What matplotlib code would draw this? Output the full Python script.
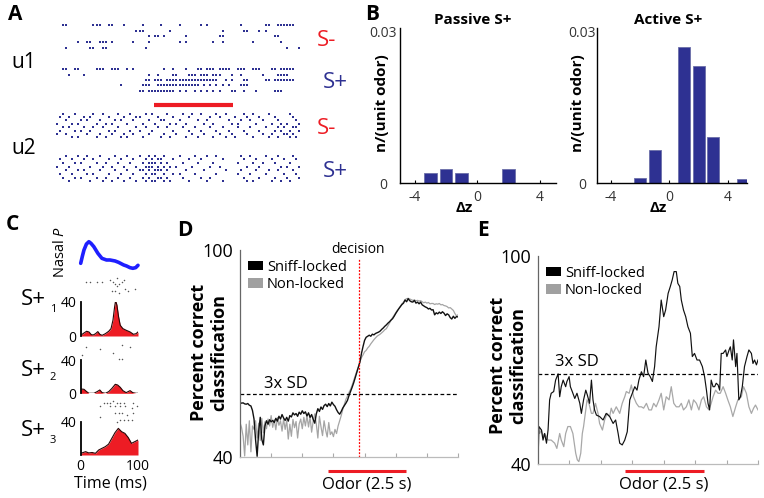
import numpy as np
import matplotlib
matplotlib.use('Agg')
import matplotlib.pyplot as plt
from matplotlib.patches import Patch

plt.rcParams['font.family'] = ['Open Sans', 'DejaVu Sans']
plt.rcParams['mathtext.fontset'] = 'custom'
plt.rcParams['mathtext.it'] = 'Open Sans:italic'
plt.rcParams['mathtext.rm'] = 'Open Sans'
plt.rcParams['axes.unicode_minus'] = False

# ---------------- DATA ----------------
# Panel A: spike rasters (time bins 0-79), one list per trial
u1_minus = [
    [2, 3, 12, 13, 14, 17, 18, 22, 28, 34, 40, 47, 49, 60, 68, 69, 72, 73, 74, 75, 76, 77],
    [26, 27, 28, 37, 54, 61, 62, 66, 68],
    [30, 32, 33, 35, 42, 53, 54, 71, 72],
    [7, 10, 11, 14, 15, 16, 18, 25, 30, 40, 42, 51, 54, 64, 73],
    [3, 11, 12, 15, 16, 29, 75, 79],
]
u1_plus = [
    [2, 3, 6, 7, 13, 14, 15, 18, 19, 20, 23, 25, 35, 38, 42, 46, 47, 49, 50, 51, 53, 54, 55, 56,
     59, 60, 61, 64, 65, 66, 70, 71, 73, 74, 75, 76, 77],
    [4, 9, 30, 33, 38, 39, 43, 44, 45, 47, 48, 49, 51, 52, 53, 57, 60, 67, 72, 73, 74, 75],
    [29, 30, 32, 33, 34, 36, 37, 38, 39, 40, 41, 42, 43, 44, 45, 46, 47, 48, 49, 50, 51, 52, 55,
     57, 61, 62, 68, 69, 71, 72, 73, 74, 75, 76, 77],
    [21, 28, 29, 30, 33, 34, 35, 36, 37, 38, 39, 40, 41, 42, 43, 44, 45, 46, 48, 50, 52, 54, 56,
     60, 61, 62],
    [27, 28, 30, 31, 32, 33, 34, 35, 36, 37, 38, 40, 42, 45, 47, 49, 51, 53, 57, 58, 61, 65, 71, 72, 73],
]
u2_minus = [
    [2, 6, 12, 15, 20, 24, 29, 31, 36, 41, 44, 47, 52, 55, 61, 64, 69, 76],
    [1, 4, 9, 11, 17, 22, 26, 27, 33, 38, 43, 50, 53, 58, 62, 66, 71, 77],
    [3, 8, 10, 14, 19, 21, 25, 30, 34, 35, 40, 46, 49, 56, 60, 63, 67, 72, 78],
    [0, 5, 7, 13, 16, 18, 23, 28, 32, 37, 39, 42, 48, 51, 57, 59, 65, 70, 73, 75, 79],
    [2, 4, 9, 12, 15, 20, 26, 29, 33, 36, 41, 45, 50, 54, 59, 63, 68, 72, 74, 77, 78],
    [1, 6, 8, 11, 17, 19, 24, 27, 31, 38, 43, 47, 52, 56, 61, 66, 71, 73, 76, 79],
    [0, 3, 10, 14, 18, 22, 25, 30, 35, 39, 44, 48, 53, 57, 62, 67, 70, 74, 75, 77],
    [5, 7, 13, 16, 21, 23, 28, 34, 37, 42, 46, 51, 55, 58, 64, 69, 72, 76, 78],
]
u2_plus = [
    [3, 7, 10, 14, 19, 23, 27, 30, 32, 35, 40, 45, 49, 52, 60, 63, 68, 72, 77],
    [1, 5, 9, 12, 17, 21, 25, 29, 31, 33, 34, 38, 43, 47, 54, 61, 65, 70, 74, 78],
    [2, 6, 8, 13, 16, 20, 24, 28, 30, 31, 32, 34, 36, 41, 46, 51, 59, 64, 67, 71, 76],
    [0, 4, 11, 15, 18, 22, 26, 29, 30, 31, 33, 35, 37, 39, 44, 50, 53, 62, 66, 73, 75, 79],
    [3, 7, 9, 14, 19, 23, 27, 28, 30, 32, 33, 34, 36, 42, 48, 55, 60, 65, 69, 72, 77],
    [1, 5, 10, 12, 17, 21, 25, 29, 31, 32, 35, 38, 40, 45, 52, 59, 63, 68, 74, 78],
    [2, 6, 8, 13, 16, 20, 24, 28, 30, 33, 34, 36, 41, 47, 50, 61, 66, 71, 75, 79],
    [4, 11, 15, 18, 22, 26, 29, 31, 32, 35, 37, 43, 49, 54, 62, 64, 70, 73, 76],
]
odor_A = (31.6, 57.3)

# Panel B: histograms of delta z
passive_x = [-3, -2, -1, 2]
passive_h = [0.0019, 0.0028, 0.0020, 0.0028]
active_x = [-2, -1, 1, 2, 3, 5]
active_h = [0.0010, 0.0066, 0.0269, 0.0232, 0.0092, 0.00085]

# Panel C: nasal pressure and PSTHs (time in ms)
nasal_t = [0, 3, 5.7, 10, 14.3, 18, 22.9, 30, 37, 45, 51, 60, 66, 75, 80, 86, 91, 96, 100]
nasal_p = [0.20, 0.42, 0.60, 0.78, 0.85, 0.80, 0.70, 0.50, 0.35, 0.30, 0.30, 0.27, 0.23,
           0.15, 0.12, 0.07, 0.05, 0.07, 0.14]
psth1_t = [0, 5.7, 10.3, 14.4, 18.4, 21.8, 25.9, 29.9, 33.3, 37.4, 43.1, 48.9, 52.9, 56.3,
           59.2, 60.9, 63.2, 66.1, 69.0, 73.6, 79.3, 86.2, 92.0, 96.6, 100]
psth1_v = [0.8, 3.5, 5.5, 4.7, 1.6, 1.2, 2.7, 5.1, 2.0, 0.8, 2.7, 5.5, 8.6, 18.4, 34.1, 41.2,
           36.1, 22.4, 12.5, 8.6, 6.7, 4.7, 2.0, 2.7, 4.7]
psth2_t = [0, 5.7, 10.3, 14.4, 23.0, 28.7, 33.3, 37.4, 43.1, 48.9, 54.6, 60.3, 64.4, 69.0,
           73.6, 79.3, 86.2, 90.8, 96.6, 100]
psth2_v = [5.2, 4.8, 2.0, 0.0, 0.0, 2.0, 4.0, 0.8, 0.0, 2.0, 6.0, 10.8, 10.0, 7.2, 3.2, 0.8,
           3.2, 0.8, 0.0, 0.0]
psth3_t = [0, 8.6, 14, 20, 25.7, 31.4, 37.1, 42.9, 48.6, 54.3, 60, 65.7, 71.4, 77.1, 82.9,
           88.6, 94.3, 100]
psth3_v = [2, 4, 2.5, 3, 2, 6, 8, 10, 13, 20, 27, 32, 28, 26, 21, 14, 16, 18]
# sniff rasters: (trial, time ms)
rast1 = [(2, 9), (2, 17), (2, 29), (2, 37), (1, 52), (2, 57), (3, 60), (3, 66), (2, 72), (4, 63),
         (6, 55), (6, 60), (5, 78), (6, 83), (5, 95), (1, 75), (0, 63), (7, 66)]
rast2 = [(1, 9), (2, 34), (0, 72), (1, 86), (4, 57), (7, 66), (7, 72), (5, 3)]
rast3 = [(2, 34), (1, 40), (1, 46), (1, 52), (0, 57), (1, 63), (1, 69), (1, 75), (2, 52), (2, 60),
         (2, 69), (2, 78), (3, 89), (1, 92), (7, 34), (5, 60), (5, 66), (5, 72), (6, 80), (8, 69),
         (8, 75), (8, 83), (8, 89), (9, 63), (5, 92), (2, 98)]

# Panel D: percent correct classification (time in s)
tD = np.arange(141) * 0.05
D_sniff = [55.8, 55.6, 55.7, 55.4, 55.3, 55.5, 55.0, 54.8, 53.5, 51.0, 45.0, 40.2, 47.5, 51.5,
           45.1, 43.5, 49.0, 50.5, 49.5, 50.8, 50.2, 50.6, 50.0, 51.2, 50.4, 51.8, 51.0, 52.3,
           51.3, 50.6, 51.5, 50.4, 52.0, 51.6, 52.8, 52.2, 52.6, 51.8, 53.0, 52.4, 53.4, 52.6,
           53.1, 51.9, 52.8, 51.5, 52.3, 50.9, 49.8, 52.5, 54.0, 53.2, 54.5, 53.8, 54.9, 55.3,
           54.6, 55.5, 54.8, 55.9, 55.2, 54.7, 53.7, 52.9, 52.4, 53.2, 54.2, 54.9, 55.6, 56.4,
           57.8, 59.0, 60.2, 61.5, 63.0, 64.6, 66.0, 67.5, 70.0, 72.0, 73.8, 74.7, 75.0, 75.3,
           75.0, 75.6, 75.4, 75.8, 76.0, 76.2, 76.5, 77.0, 77.4, 77.9, 78.3, 78.8, 79.2, 79.7,
           80.1, 80.8, 81.6, 82.3, 83.0, 83.6, 84.2, 84.6, 85.5, 85.0, 85.9, 85.3, 85.0, 84.9,
           85.4, 84.6, 84.9, 84.4, 84.9, 84.1, 83.8, 83.5, 83.3, 82.9, 83.1, 82.6, 82.7, 81.2,
           81.8, 81.5, 82.0, 81.6, 82.1, 81.7, 81.0, 81.5, 81.2, 80.4, 80.0, 80.8, 80.2, 80.7,
           80.6]
D_non = [50.0, 48.5, 46.0, 40.3, 49.5, 43.5, 50.5, 41.5, 49.0, 48.0, 50.5, 45.5, 49.8, 44.8,
         51.2, 47.0, 50.2, 48.2, 51.0, 49.0, 52.0, 48.6, 50.8, 47.9, 51.4, 49.2, 50.5, 47.5,
         51.0, 48.0, 50.6, 45.2, 49.5, 46.0, 50.9, 48.5, 50.3, 45.5, 49.6, 51.0, 48.2, 51.5,
         49.0, 52.0, 48.7, 51.6, 47.2, 50.4, 52.5, 49.6, 45.5, 51.8, 48.8, 46.2, 50.5, 47.8,
         45.8, 50.0, 46.5, 47.3, 45.9, 48.0, 46.8, 49.0, 50.5, 52.0, 53.8, 55.3, 56.7, 57.6,
         58.7, 59.6, 60.8, 62.2, 63.5, 64.9, 66.1, 67.6, 68.8, 69.6, 70.5, 70.9, 71.6, 72.1,
         72.8, 73.4, 74.0, 74.5, 75.0, 75.3, 75.6, 76.0, 76.4, 76.9, 77.2, 78.0, 78.8, 79.6,
         80.4, 81.1, 81.8, 82.5, 83.0, 83.7, 84.4, 84.9, 85.6, 85.9, 86.0, 85.8, 85.6, 85.4,
         85.5, 85.3, 85.4, 85.2, 85.3, 85.0, 84.7, 84.9, 84.6, 84.8, 84.4, 84.5, 84.5, 84.2,
         84.4, 84.3, 84.5, 84.1, 84.2, 83.9, 83.8, 83.6, 83.2, 83.3, 82.9, 82.5, 81.6, 80.9,
         81.2]
sd3_D = 58.2
decision_t = 3.83
odor_D = 2.83

# Panel E
tE_sniff = [0, .03, .11, .16, .21, .27, .32, .37, .42, .50, .56, .64, .69, .74, .80, .88, .92,
            .99, 1.03, 1.09, 1.17, 1.24, 1.33, 1.38, 1.45, 1.52, 1.57, 1.64, 1.70, 1.75, 1.80,
            1.86, 1.96, 2.07, 2.17, 2.28, 2.39, 2.47, 2.55, 2.60, 2.68, 2.76, 2.84, 2.92, 3.00,
            3.08, 3.15, 3.21, 3.29, 3.36, 3.43, 3.50, 3.57, 3.64, 3.71, 3.76, 3.85, 3.92, 4.00,
            4.06, 4.14, 4.21, 4.27, 4.33, 4.40, 4.45, 4.51, 4.56, 4.63, 4.70, 4.77, 4.85, 4.91,
            4.98, 5.06, 5.14, 5.23, 5.30, 5.36, 5.41, 5.46, 5.51, 5.57, 5.62, 5.67, 5.73, 5.78,
            5.83, 5.89, 5.97, 6.01, 6.08, 6.12, 6.18, 6.22, 6.29, 6.33, 6.39, 6.44, 6.50, 6.57,
            6.65, 6.71, 6.79, 6.84, 6.89, 6.95, 7.00]
E_sniff = [40.2, 50.8, 49.8, 46.9, 48.8, 46.0, 49.8, 58.5, 60.4, 60.9, 64.2, 66.0, 59.4, 62.3,
           64.2, 62.3, 63.8, 65.2, 62.3, 60.9, 58.9, 60.4, 57.5, 54.6, 58.5, 61.3, 59.9, 57.5,
           64.2, 58.5, 55.6, 54.1, 53.7, 52.7, 54.6, 53.7, 51.7, 52.7, 48.8, 46.0, 45.5, 46.9,
           49.3, 58.5, 60.4, 62.3, 61.3, 64.2, 66.6, 65.2, 70.0, 66.2, 65.2, 63.8, 68.1, 73.8,
           79.6, 87.3, 82.5, 84.4, 89.2, 91.2, 93.1, 95.5, 95.5, 92.1, 91.2, 87.3, 84.4, 82.5,
           79.6, 77.7, 71.0, 71.9, 70.0, 70.0, 68.1, 65.2, 61.3, 57.5, 55.6, 64.2, 62.3, 62.3,
           63.3, 62.8, 61.3, 71.9, 71.9, 72.9, 71.0, 72.9, 73.8, 70.0, 75.8, 68.1, 71.9, 58.5,
           59.4, 62.3, 68.1, 71.0, 72.9, 71.9, 69.0, 70.0, 68.6, 70.0]
tE_non = [0.00, 0.05, 0.11, 0.16, 0.21, 0.32, 0.42, 0.53, 0.60, 0.69, 0.74, 0.82, 0.88, 0.95,
          1.03, 1.11, 1.20, 1.25, 1.30, 1.36, 1.41, 1.45, 1.52, 1.56, 1.62, 1.70, 1.75, 1.83,
          1.91, 1.96, 2.05, 2.12, 2.20, 2.28, 2.33, 2.39, 2.49, 2.60, 2.68, 2.76, 2.81, 2.90,
          2.97, 3.04, 3.13, 3.21, 3.29, 3.36, 3.45, 3.53, 3.61, 3.68, 3.76, 3.85, 3.92, 4.00,
          4.08, 4.17, 4.24, 4.32, 4.40, 4.49, 4.56, 4.63, 4.72, 4.80, 4.88, 4.95, 5.04, 5.12,
          5.20, 5.27, 5.36, 5.44, 5.51, 5.57, 5.65, 5.73, 5.80, 5.89, 5.97, 6.04, 6.12, 6.20,
          6.29, 6.36, 6.47, 6.54, 6.63, 6.71, 6.79, 6.86, 6.92, 7.00]
E_non = [50.8, 48.8, 49.8, 47.9, 48.8, 46.9, 46.9, 46.0, 44.5, 48.8, 46.9, 45.0, 48.8, 50.8,
         50.8, 48.8, 43.1, 41.2, 40.7, 43.1, 48.8, 50.8, 55.6, 58.5, 57.5, 54.6, 54.6, 57.5,
         54.6, 51.7, 49.8, 52.7, 54.6, 53.7, 56.1, 54.6, 56.5, 54.6, 57.5, 59.4, 60.9, 60.4,
         62.8, 59.4, 57.5, 56.5, 56.5, 56.1, 57.5, 55.6, 55.6, 57.5, 56.5, 58.5, 60.4, 55.6,
         59.4, 58.5, 62.3, 57.5, 56.5, 56.5, 57.5, 55.6, 56.5, 58.5, 55.6, 58.5, 57.5, 55.6,
         58.5, 59.4, 56.5, 55.6, 57.5, 59.4, 61.3, 60.4, 60.4, 62.3, 60.4, 58.5, 56.5, 53.7,
         56.5, 58.5, 59.4, 62.3, 60.4, 56.5, 54.6, 56.1, 57.0, 55.6]
sd3_E = 66.0
odor_E = 2.78
odor_dur = 2.5

# ---------------- FIGURE ----------------
W, H = 764, 498
fig = plt.figure(figsize=(W / 100, H / 100), dpi=100)
NAVY = '#2e3192'
RED = '#ed1c24'


def ax_px(l, t, r, b):
    return fig.add_axes([l / W, 1 - b / H, (r - l) / W, (b - t) / H])


def txt(x, y, s, **kw):
    kw.setdefault('ha', 'center')
    kw.setdefault('va', 'center')
    return fig.text(x / W, 1 - y / H, s, **kw)


# panel letters
for lab, x, y in [('A', 15, 15), ('B', 372, 15), ('C', 12, 224), ('D', 185, 231), ('E', 483, 231)]:
    txt(x, y, lab, fontsize=15, fontweight='bold')

# ---------- Panel A ----------
dash = [(-1, -0.7), (1, -0.7), (1, 0.7), (-1, 0.7)]
for rows, top, bot in [(u1_minus, 22, 51), (u1_plus, 66.5, 93.5),
                       (u2_minus, 112, 139), (u2_plus, 154, 183)]:
    ax = ax_px(55, top, 301, bot)
    for i, row in enumerate(rows):
        ax.scatter(row, [i] * len(row), marker=dash, s=3.0, color=NAVY, linewidths=0)
    ax.set_xlim(-0.5, 79.5)
    ax.set_ylim(len(rows) - 0.5, -0.5)
    ax.axis('off')
axbar = ax_px(55, 100, 301, 110)
axbar.plot(odor_A, [0, 0], color=RED, lw=3, solid_capstyle='butt')
axbar.set_xlim(-0.5, 79.5)
axbar.set_ylim(-1, 1)
axbar.axis('off')
txt(24, 62, 'u1', fontsize=15)
txt(24, 148, 'u2', fontsize=15)
txt(327, 40, 'S-', fontsize=16, color=RED)
txt(335, 83, 'S+', fontsize=16, color=NAVY)
txt(327, 128, 'S-', fontsize=16, color=RED)
txt(335, 171, 'S+', fontsize=16, color=NAVY)

# ---------- Panel B ----------
for (l, r, xs, hs, title, xlim, pad, lx, tx) in [
        (400, 556, passive_x, passive_h, 'Passive S+', (-4.95, 5.05), 12, 382, 473),
        (597, 747, active_x, active_h, 'Active S+', (-4.95, 5.3), 10.5, 578, 668)]:
    ax = ax_px(l, 28, r, 183)
    ax.bar(xs, hs, width=0.82, color=NAVY, edgecolor='#6b6fa8', linewidth=0.6)
    ax.set_xlim(*xlim)
    ax.set_ylim(0, 0.0307)
    ax.set_yticks([0, 0.03])
    ax.set_yticklabels(['0', '0.03'])
    ax.set_xticks([-4, 0, 4])
    ax.set_xticklabels(['-4', '0', '4'])
    ax.tick_params(axis='y', length=0, pad=pad, labelsize=10, labelcolor='#333333')
    ax.tick_params(axis='x', length=2.5, direction='in', pad=5, labelsize=10, labelcolor='#333333')
    for lbl in ax.get_yticklabels():
        lbl.set_ha('center')
    for s in ['top', 'right']:
        ax.spines[s].set_visible(False)
    for s in ['left', 'bottom']:
        ax.spines[s].set_linewidth(1.0)
    txt(lx, 103, 'n/(unit odor)', fontsize=11, fontweight='bold', rotation=90)
    txt(tx, 20, title, fontsize=11, fontweight='bold')
    txt((l + r) / 2 - 14, 208, 'Δz', fontsize=11, fontweight='bold')

# ---------- Panel C ----------
axn = ax_px(80.7, 241.7, 138, 268.3)
axn.plot(nasal_t, nasal_p, color='#1f1fff', lw=2.6, solid_capstyle='round', clip_on=False)
axn.set_xlim(0, 100)
axn.set_ylim(min(nasal_p), max(nasal_p))
axn.axis('off')
txt(61, 252, 'Nasal $\\it{P}$', fontsize=10.5, rotation=90)

psths = [(psth1_t, psth1_v, 301.7, 336, rast1, 277, 298, '1', 299, 310),
         (psth2_t, psth2_v, 360, 393.3, rast2, 344, 364, '2', 370, 377),
         (psth3_t, psth3_v, 421.7, 455, rast3, 400, 423, '3', 430, 440)]
for k, (t, v, top, bot, rast, rt, rb, sub, ly, sy) in enumerate(psths):
    ax = ax_px(80.7, top, 138, bot)
    ax.fill_between(t, 0, v, color=RED, lw=0)
    ax.plot(t, v, color='#2a0505', lw=0.8)
    ax.set_xlim(0, 100)
    ax.set_ylim(0, 40)
    for s in ['top', 'right', 'bottom']:
        ax.spines[s].set_visible(False)
    ax.spines['left'].set_linewidth(1.3)
    if k < 2:
        ax.set_yticks([0, 40])
        ax.set_xticks([])
    else:
        ax.set_yticks([40])
        ax.set_xticks([0, 100])
    ax.tick_params(length=0, labelsize=10, pad=3)
    axr = ax_px(80.7, rt, 138, rb)
    axr.scatter([p[1] for p in rast], [p[0] for p in rast], s=1.2, color='#555555', linewidths=0)
    axr.set_xlim(0, 100)
    axr.set_ylim(9.5, -0.5)
    axr.axis('off')
    txt(33, ly, 'S+', fontsize=16)
    txt(53, sy, sub, fontsize=8)
txt(110, 483, 'Time (ms)', fontsize=11.5)


# ---------- Panels D & E ----------
def class_panel(l, t, r, b, ts, sniff, tn, non, sd3, odor, bar_y, sd_xy, odor_x, lab_x, lab_y,
                non_col, sniff_lw):
    ax = ax_px(l, t, r, b)
    ax.plot(tn, non, color=non_col, lw=0.9)
    ax.plot(ts, sniff, color='#111111', lw=sniff_lw)
    ax.axhline(sd3, color='black', ls=(0, (3, 2)), lw=0.9)
    ax.set_xlim(0, 7)
    ax.set_ylim(40, 100)
    ax.set_yticks([40, 100])
    ax.set_xticks(range(1, 8))
    ax.set_xticklabels([])
    ax.tick_params(axis='y', length=0, labelsize=13, pad=5)
    ax.tick_params(axis='x', length=3, direction='in', color='#aaaaaa')
    for s in ['top', 'right']:
        ax.spines[s].set_visible(False)
    ax.spines['left'].set_color('#666666')
    ax.spines['left'].set_linewidth(0.9)
    ax.spines['bottom'].set_color('#bbbbbb')
    ax.spines['bottom'].set_linewidth(0.9)
    ax.plot([odor, odor + odor_dur], [bar_y, bar_y], color=RED, lw=2.2,
            solid_capstyle='butt', clip_on=False)
    txt(sd_xy[0], sd_xy[1], '3x SD', fontsize=12)
    txt(odor_x, 484, 'Odor (2.5 s)', fontsize=12)
    txt(lab_x, lab_y, 'Percent correct\nclassification', fontsize=13, fontweight='bold',
        rotation=90, linespacing=1.2)
    hd = [Patch(facecolor='black', edgecolor='none'), Patch(facecolor='#a0a0a0', edgecolor='none')]
    ax.legend(hd, ['Sniff-locked', 'Non-locked'], loc='upper left',
              bbox_to_anchor=((8) / (r - l), 1 - 10 / (b - t)), frameon=False, fontsize=10.5,
              handlelength=1.05, handleheight=0.6, handletextpad=0.25, labelspacing=0.15,
              borderpad=0, borderaxespad=0)
    return ax


axD = class_panel(240, 250, 458, 457, tD, D_sniff, tD, D_non, sd3_D, odor_D, 35.9,
                  (286, 384), 367, 209, 352, '#a5a5a5', 1.0)
axD.vlines(decision_t, 40, 97.4, color='red', ls=(0, (1.5, 1.2)), lw=0.9)
txt(358, 249, 'decision', fontsize=10)

axE = class_panel(538, 256, 758, 464, tE_sniff, E_sniff, tE_non, E_non, sd3_E, odor_E, 38.1,
                  (577, 362), 664, 508, 365, '#a8a8a8', 0.85)

fig.savefig('out.png', dpi=100)
